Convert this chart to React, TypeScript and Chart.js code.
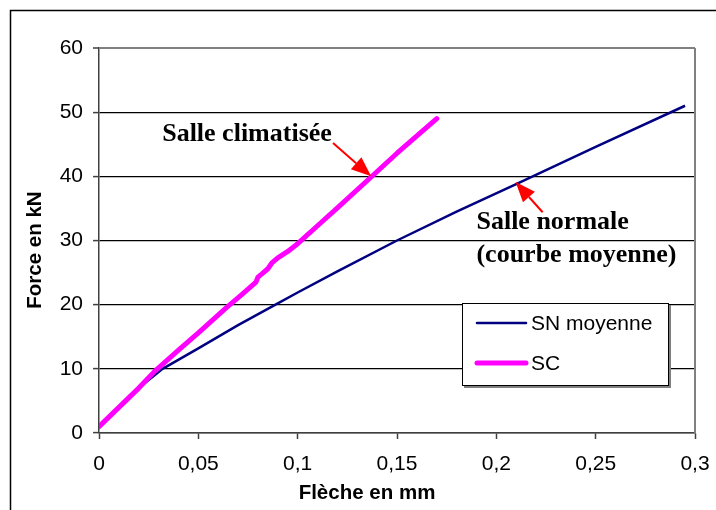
import React, { useEffect, useRef } from "react";
import { Chart, registerables } from "chart.js";

Chart.register(...registerables);

// ---- Data ----
const snX = [0, 0.01, 0.02, 0.032, 0.05, 0.07, 0.09, 0.1, 0.12, 0.15, 0.18, 0.21, 0.25, 0.295];
const snY = [1, 4, 7, 10, 13.2, 16.8, 20.2, 21.9, 25.2, 30, 34.5, 38.8, 44.6, 51];

const scX = [0, 0.01, 0.02, 0.028, 0.04, 0.05, 0.064, 0.072, 0.079, 0.08, 0.082, 0.085, 0.087, 0.09, 0.095, 0.1, 0.11, 0.12, 0.137, 0.15, 0.17];
const scY = [1, 4, 7, 9.6, 12.9, 15.6, 19.5, 21.6, 23.5, 24.3, 24.8, 25.6, 26.5, 27.3, 28.3, 29.5, 32.3, 35.1, 39.9, 43.6, 49];

const seriesNames = ["SN moyenne", "SC"];
const xTitle = "Flèche en mm";
const yTitle = "Force en kN";

// annotations in data units
const noteClimText = "Salle climatisée";
const noteClimPos = [0.0318, 46.6];
const noteClimArrow = [0.1178, 45.2, 0.137, 40];
const noteNormText = ["Salle normale", "(courbe moyenne)"];
const noteNormPos = [0.19, 32.9, 27.7];
const noteNormArrow = [0.2233, 34.4, 0.2097, 39.1];

const SANS = "'Liberation Sans', Arial, sans-serif";
const SERIF = "'Liberation Serif', 'Times New Roman', serif";
const BLUE = "#000080";
const MAGENTA = "#FF00FF";

function fmt(v: number) {
  return String(Number(v.toFixed(2))).replace(".", ",");
}

function drawArrow(ctx: CanvasRenderingContext2D, x1: number, y1: number, x2: number, y2: number) {
  const ang = Math.atan2(y2 - y1, x2 - x1);
  const hl = 20;
  const hw = 8;
  const bx = x2 - hl * Math.cos(ang);
  const by = y2 - hl * Math.sin(ang);
  ctx.save();
  ctx.strokeStyle = "#FF0000";
  ctx.fillStyle = "#FF0000";
  ctx.lineWidth = 2;
  ctx.beginPath();
  ctx.moveTo(x1, y1);
  ctx.lineTo(bx, by);
  ctx.stroke();
  ctx.beginPath();
  ctx.moveTo(x2, y2);
  ctx.lineTo(bx + hw * Math.sin(ang), by - hw * Math.cos(ang));
  ctx.lineTo(bx - hw * Math.sin(ang), by + hw * Math.cos(ang));
  ctx.closePath();
  ctx.fill();
  ctx.restore();
}

const decorPlugin = {
  id: "decor",
  beforeDatasetsDraw(chart: any) {
    const { ctx, chartArea } = chart;
    ctx.save();
    ctx.strokeStyle = "#808080";
    ctx.lineWidth = 2;
    ctx.beginPath();
    ctx.moveTo(chartArea.right, chartArea.top);
    ctx.lineTo(chartArea.right, chartArea.bottom);
    ctx.stroke();
    ctx.restore();
  },
  afterDraw(chart: any) {
    const { ctx } = chart;
    const xs = chart.scales.x;
    const ys = chart.scales.y;
    const px = (v: number) => xs.getPixelForValue(v);
    const py = (v: number) => ys.getPixelForValue(v);
    ctx.save();

    // outer frame (only top and left visible)
    ctx.strokeStyle = "#000";
    ctx.lineWidth = 1.5;
    ctx.beginPath();
    ctx.moveTo(10.5, 530);
    ctx.lineTo(10.5, 10.5);
    ctx.lineTo(730, 10.5);
    ctx.stroke();

    // axis titles
    ctx.fillStyle = "#000";
    ctx.font = `bold 20.5px ${SANS}`;
    ctx.textAlign = "center";
    ctx.textBaseline = "middle";
    ctx.fillText(xTitle, 367, 493);
    ctx.save();
    ctx.translate(35, 250);
    ctx.rotate(-Math.PI / 2);
    ctx.fillText(yTitle, 0, 0);
    ctx.restore();

    // annotations
    ctx.font = `bold 26px ${SERIF}`;
    ctx.textAlign = "left";
    ctx.fillText(noteClimText, px(noteClimPos[0]), py(noteClimPos[1]));
    ctx.fillText(noteNormText[0], px(noteNormPos[0]), py(noteNormPos[1]));
    ctx.fillText(noteNormText[1], px(noteNormPos[0]), py(noteNormPos[2]));
    drawArrow(ctx, px(noteClimArrow[0]), py(noteClimArrow[1]), px(noteClimArrow[2]), py(noteClimArrow[3]));
    drawArrow(ctx, px(noteNormArrow[0]), py(noteNormArrow[1]), px(noteNormArrow[2]), py(noteNormArrow[3]));

    // legend
    const lx = 462, ly = 303, lw = 207, lh = 83;
    ctx.fillStyle = "#808080";
    ctx.fillRect(lx + 2, ly + 2, lw, lh);
    ctx.fillStyle = "#fff";
    ctx.fillRect(lx, ly, lw, lh);
    ctx.strokeStyle = "#000";
    ctx.lineWidth = 1;
    ctx.strokeRect(lx + 0.5, ly + 0.5, lw - 1, lh - 1);
    const rows = [
      { y: 323, color: BLUE, w: 2.5 },
      { y: 363, color: MAGENTA, w: 5 },
    ];
    ctx.font = `21px ${SANS}`;
    ctx.textBaseline = "middle";
    rows.forEach((r, i) => {
      ctx.strokeStyle = r.color;
      ctx.lineWidth = r.w;
      ctx.lineCap = "round";
      ctx.beginPath();
      ctx.moveTo(477, r.y);
      ctx.lineTo(526, r.y);
      ctx.stroke();
      ctx.fillStyle = "#000";
      ctx.fillText(seriesNames[i], 531, r.y + 1);
    });
    ctx.restore();
  },
};

export default function App() {
  const ref = useRef<HTMLCanvasElement | null>(null);
  useEffect(() => {
    if (!ref.current) return;
    const chart = new Chart(ref.current, {
      type: "scatter",
      data: {
        datasets: [
          {
            label: seriesNames[0],
            data: snX.map((x, i) => ({ x, y: snY[i] })),
            borderColor: BLUE,
            backgroundColor: BLUE,
            borderWidth: 2.5,
            showLine: true,
            pointRadius: 0,
            tension: 0,
            order: 1,
          },
          {
            label: seriesNames[1],
            data: scX.map((x, i) => ({ x, y: scY[i] })),
            borderColor: MAGENTA,
            backgroundColor: MAGENTA,
            borderWidth: 5,
            borderCapStyle: "round",
            borderJoinStyle: "round",
            showLine: true,
            pointRadius: 0,
            tension: 0,
            order: 0,
          },
        ],
      },
      options: {
        animation: false,
        responsive: false,
        events: [],
        layout: { padding: { left: 0, top: 48, right: 21, bottom: 0 } },
        plugins: { legend: { display: false }, tooltip: { enabled: false } },
        scales: {
          x: {
            type: "linear",
            min: 0,
            max: 0.3,
            afterFit: (s: any) => {
              s.height = 77;
              s.paddingLeft = 0;
              s.paddingRight = 0;
            },
            ticks: {
              stepSize: 0.05,
              callback: (v: any) => fmt(Number(v)),
              font: { family: SANS, size: 21 },
              color: "#000",
              padding: 13,
              maxRotation: 0,
            },
            grid: { drawOnChartArea: false, tickLength: 6, tickColor: "#404040", tickWidth: 1.5 },
            border: { color: "#404040", width: 1.5 },
          },
          y: {
            min: 0,
            max: 60,
            afterFit: (s: any) => {
              s.width = 99;
              s.paddingTop = 0;
              s.paddingBottom = 0;
            },
            ticks: {
              stepSize: 10,
              callback: (v: any) => fmt(Number(v)),
              font: { family: SANS, size: 21 },
              color: "#000",
              padding: 10,
            },
            grid: {
              color: (c: any) => (c.tick && c.tick.value === 60 ? "#808080" : "#000"),
              lineWidth: (c: any) => (c.tick && c.tick.value === 60 ? 2 : 1.2),
              tickLength: 6,
              tickColor: "#404040",
              tickWidth: 1.5,
            },
            border: { color: "#404040", width: 1.5 },
          },
        },
      } as any,
      plugins: [decorPlugin],
    });
    return () => chart.destroy();
  }, []);
  return (
    <div style={{ position: "fixed", left: 0, top: 0, width: 716, height: 510, background: "#fff" }}>
      <canvas ref={ref} width={716} height={510} style={{ display: "block" }} />
    </div>
  );
}
